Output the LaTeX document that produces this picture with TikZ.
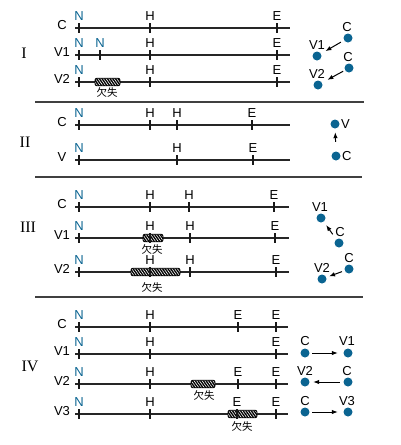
\documentclass[tikz,border=0pt]{standalone}
\usepackage{fontspec}
\setmainfont{Liberation Sans}
\newfontfamily\romanfont{Liberation Serif}
\newfontfamily\cjk{Noto Sans CJK JP}
\usetikzlibrary{arrows.meta,patterns.meta}
\definecolor{dotblue}{RGB}{10,100,145}
\definecolor{nblue}{RGB}{10,100,145}
\newcommand\chromrow[4]{%
  \coordinate (#1s) at (75,#2);
  \coordinate (#1e) at (#3,#2);
  \draw[chromline] (#1s) -- (#1e);
  \node[lbl] (#1l) at (62,{#2-3}) {#4};
}
\newcommand\locus[5]{%
  \draw[tickline] (#2,{#3-5}) -- (#2,{#3+5});
  \node[#5, anchor=south] (#1) at (#2,{#3-7}) {#4};
}
\begin{document}
\begin{tikzpicture}[x=1pt,y=-1pt,
  lbl/.style={font=\fontsize{13}{13}\selectfont, inner sep=0pt},
  mk/.style={lbl},
  nmk/.style={lbl, text=nblue},
  roman/.style={font=\romanfont\fontsize{16}{16}\selectfont, inner sep=0pt},
  dellbl/.style={font=\cjk\fontsize{10.5}{11}\selectfont, inner sep=0pt},
  chromline/.style={line width=1.2pt, draw=black!85},
  tickline/.style={line width=1.2pt, draw=black!90},
  sepline/.style={line width=1.5pt, draw=black!75},
  dot/.style={circle, fill=dotblue, minimum size=9pt, inner sep=0pt},
  arr/.style={line width=1pt, -{Latex[length=6pt,width=4.5pt]}},
  delbox/.style={draw=black, line width=0.9pt, rounded corners=2pt,
     preaction={fill=black},
     pattern={Lines[angle=-55,distance=2.2pt,line width=0.6pt]}, pattern color=white,
     minimum height=7.5pt, inner sep=0pt}
]
\useasboundingbox (0,0) rectangle (400,445);

% ---------- Section I ----------
\node[roman] (r1) at (24,53) {I};
\chromrow{a1}{28}{290}{C}
\locus{a1n}{79}{28}{N}{nmk}
\locus{a1h}{150}{28}{H}{mk}
\locus{a1x}{277}{28}{E}{mk}

\chromrow{a2}{55}{290}{V1}
\locus{a2n}{79}{55}{N}{nmk}
\locus{a2m}{100}{55}{N}{nmk}
\locus{a2h}{150}{55}{H}{mk}
\locus{a2x}{277}{55}{E}{mk}

\chromrow{a3}{82}{290}{V2}
\node[delbox, minimum width=25pt] (a3d) at (107.5,82) {};
\node[dellbl] (a3dl) at (107,92) {欠失};
\locus{a3n}{79}{82}{N}{nmk}
\locus{a3h}{150}{82}{H}{mk}
\locus{a3x}{277}{82}{E}{mk}

\node[dot] (i1c) at (348,38) {};
\node[lbl] (i1cl) at (347,27) {C};
\node[dot] (i1v) at (317,56) {};
\node[lbl] (i1vl) at (317,45) {V1};
\draw[arr, shorten <=3.5pt, shorten >=5pt] (i1c) -- (i1v);

\node[dot] (i2c) at (349,68) {};
\node[lbl] (i2cl) at (348,57) {C};
\node[dot] (i2v) at (318,85) {};
\node[lbl] (i2vl) at (317,74) {V2};
\draw[arr, shorten <=2pt, shorten >=6pt] (i2c) -- (i2v);

\coordinate (s1a) at (35,102);
\coordinate (s1b) at (364,102);
\draw[sepline] (s1a) -- (s1b);

% ---------- Section II ----------
\node[roman] (r2) at (25,142) {II};
\chromrow{b1}{125}{290}{C}
\locus{b1n}{79}{125}{N}{nmk}
\locus{b1h}{150}{125}{H}{mk}
\locus{b1k}{177}{125}{H}{mk}
\locus{b1x}{252}{125}{E}{mk}

\chromrow{b2}{160}{290}{V}
\locus{b2n}{79}{160}{N}{nmk}
\locus{b2k}{177}{160}{H}{mk}
\locus{b2x}{253}{160}{E}{mk}

\node[dot] (iiv) at (335,124) {};
\node[lbl, anchor=west] (iivl) at (341,124) {V};
\node[dot] (iic) at (336,156) {};
\node[lbl, anchor=west] (iicl) at (342,156) {C};
\draw[arr, shorten <=9.5pt, shorten >=3.5pt] (iic) -- (iiv);

\coordinate (s2a) at (35,177);
\coordinate (s2b) at (362,177);
\draw[sepline] (s2a) -- (s2b);

% ---------- Section III ----------
\node[roman] (r3) at (28,227) {III};
\chromrow{c1}{207}{289}{C}
\locus{c1n}{79}{207}{N}{nmk}
\locus{c1h}{150}{207}{H}{mk}
\locus{c1k}{189}{207}{H}{mk}
\locus{c1x}{274}{207}{E}{mk}

\chromrow{c2}{238}{289}{V1}
\node[delbox, minimum width=20pt] (c2d) at (153,238) {};
\node[dellbl] (c2dl) at (152,249) {欠失};
\locus{c2n}{79}{238}{N}{nmk}
\locus{c2h}{150}{238}{H}{mk}
\locus{c2k}{190}{238}{H}{mk}
\locus{c2x}{275}{238}{E}{mk}

\chromrow{c3}{272}{289}{V2}
\node[delbox, minimum width=49pt] (c3d) at (155.5,272) {};
\node[dellbl] (c3dl) at (152,287) {欠失};
\locus{c3n}{79}{272}{N}{nmk}
\locus{c3h}{150}{272}{H}{mk}
\locus{c3k}{190}{272}{H}{mk}
\locus{c3x}{276}{272}{E}{mk}

\node[dot] (iii1v) at (321,218) {};
\node[lbl] (iii1vl) at (320,207) {V1};
\node[dot] (iii1c) at (339,243) {};
\node[lbl] (iii1cl) at (340,232) {C};
\draw[arr, shorten <=6pt, shorten >=4pt] (iii1c) -- (iii1v);

\node[dot] (iii2c) at (349,269) {};
\node[lbl] (iii2cl) at (349,258) {C};
\node[dot] (iii2v) at (322,279) {};
\node[lbl] (iii2vl) at (322,268) {V2};
\draw[arr, shorten <=2.8pt, shorten >=2.8pt] (iii2c) -- (iii2v);

\coordinate (s3a) at (35,297);
\coordinate (s3b) at (363,297);
\draw[sepline] (s3a) -- (s3b);

% ---------- Section IV ----------
\node[roman] (r4) at (30,366) {IV};
\chromrow{d1}{327}{288}{C}
\locus{d1n}{79}{327}{N}{nmk}
\locus{d1h}{150}{327}{H}{mk}
\locus{d1x}{238}{327}{E}{mk}
\locus{d1y}{276}{327}{E}{mk}

\chromrow{d2}{354}{288}{V1}
\locus{d2n}{79}{354}{N}{nmk}
\locus{d2h}{150}{354}{H}{mk}
\locus{d2y}{276}{354}{E}{mk}

\chromrow{d3}{384}{288}{V2}
\node[delbox, minimum width=24pt] (d3d) at (203,384) {};
\node[dellbl] (d3dl) at (204,395) {欠失};
\locus{d3n}{79}{384}{N}{nmk}
\locus{d3h}{150}{384}{H}{mk}
\locus{d3x}{238}{384}{E}{mk}
\locus{d3y}{276}{384}{E}{mk}

\chromrow{d4}{414}{288}{V3}
\node[delbox, minimum width=29pt] (d4d) at (242.5,414) {};
\node[dellbl] (d4dl) at (242,426) {欠失};
\locus{d4n}{79}{414}{N}{nmk}
\locus{d4h}{150}{414}{H}{mk}
\locus{d4x}{237}{414}{E}{mk}
\locus{d4y}{276}{414}{E}{mk}

\node[dot] (iv1c) at (305,353) {};
\node[lbl] (iv1cl) at (305,341) {C};
\node[dot] (iv1v) at (348,353) {};
\node[lbl] (iv1vl) at (347,341) {V1};
\draw[arr, shorten <=2.5pt, shorten >=5.5pt] (iv1c) -- (iv1v);

\node[dot] (iv2v) at (305,382) {};
\node[lbl] (iv2vl) at (305,371) {V2};
\node[dot] (iv2c) at (348,382) {};
\node[lbl] (iv2cl) at (347,371) {C};
\draw[arr, shorten <=3.5pt, shorten >=3.5pt] (iv2c) -- (iv2v);

\node[dot] (iv3c) at (305,412) {};
\node[lbl] (iv3cl) at (305,401) {C};
\node[dot] (iv3v) at (348,412) {};
\node[lbl] (iv3vl) at (347,401) {V3};
\draw[arr, shorten <=2.5pt, shorten >=5.5pt] (iv3c) -- (iv3v);
\end{tikzpicture}
\end{document}
